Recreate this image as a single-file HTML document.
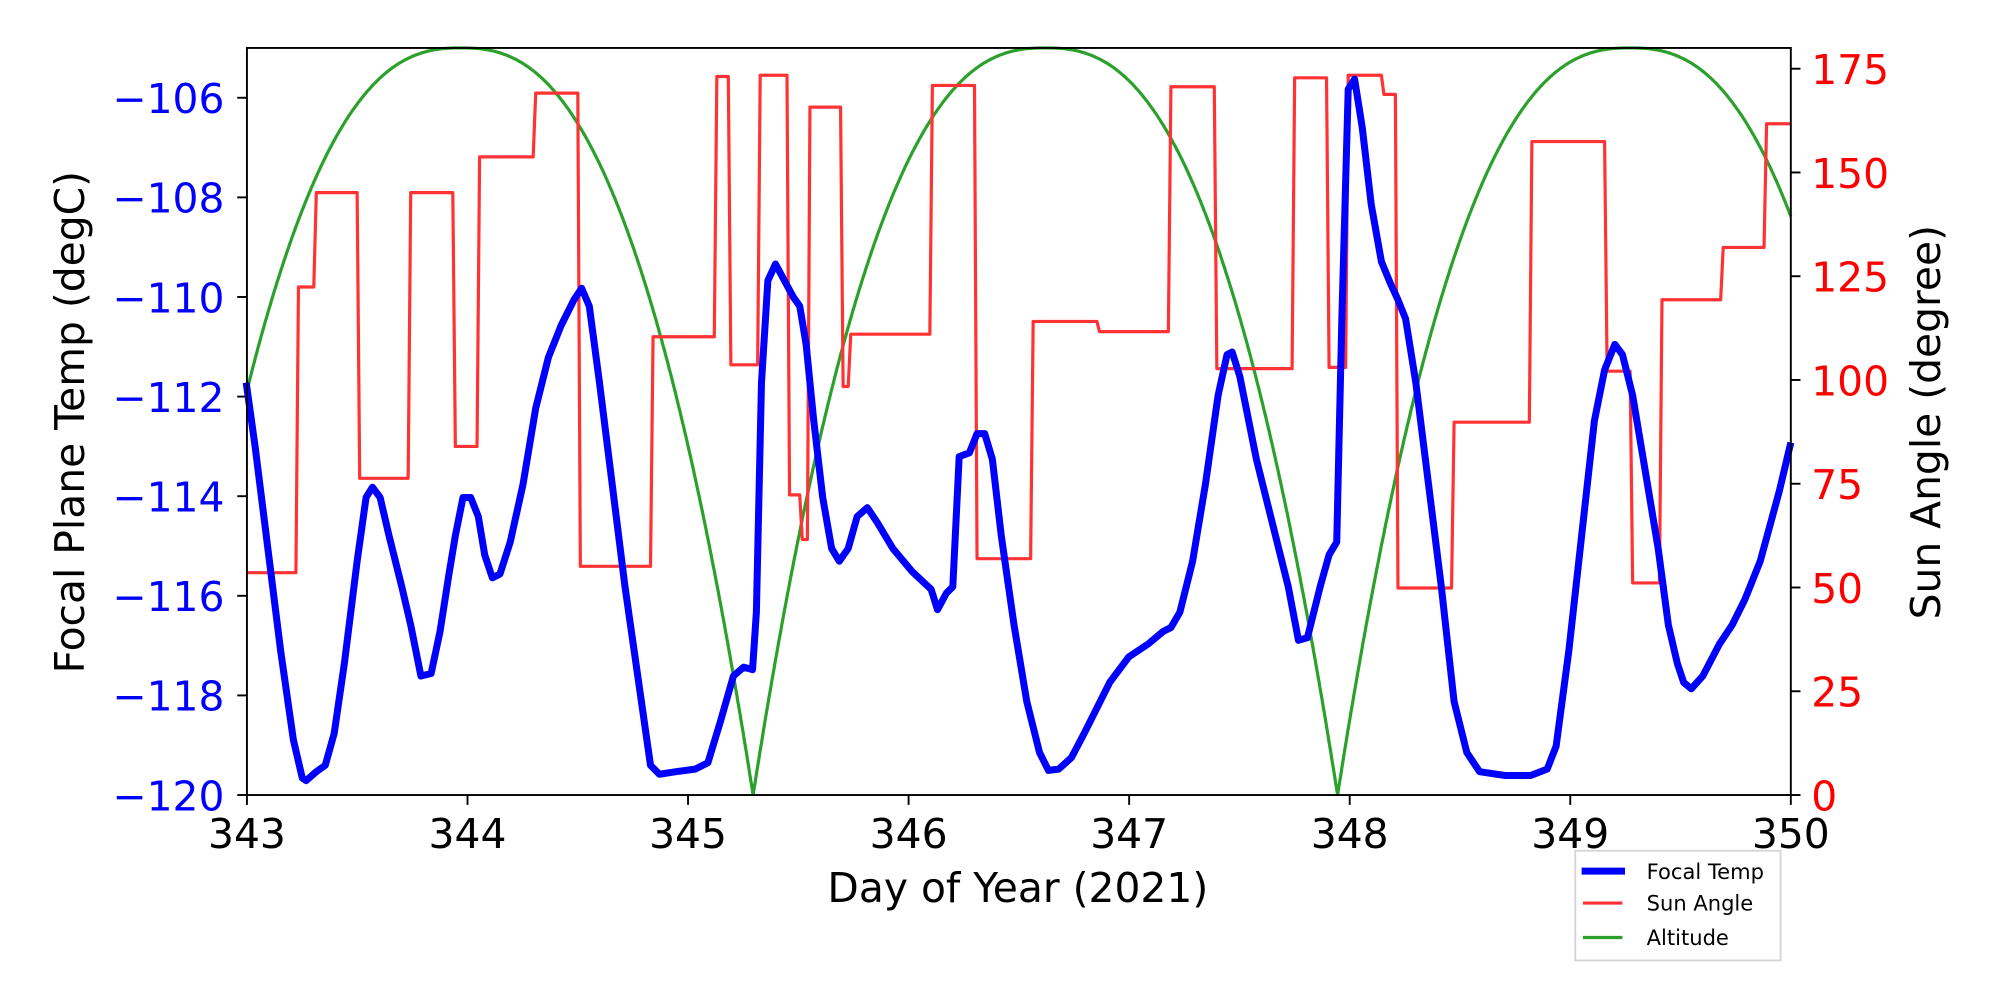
<!DOCTYPE html>
<html><head><meta charset="utf-8"><style>body{margin:0;background:#fff}svg{display:block}text{font-family:"DejaVu Sans","Liberation Sans",sans-serif}</style></head>
<body>
<svg id="s" width="2000" height="1000" viewBox="0 0 1568 784" xmlns="http://www.w3.org/2000/svg">
<rect width="1568" height="784" fill="#fff"/>
<g id="plot"></g>
<rect x="193.6" y="37.6" width="1210.4" height="585.7" fill="none" stroke="#000" stroke-width="1.5"/>
<g font-size="32" fill="#0000ff" text-anchor="end" id="yl"></g>
<g font-size="32" fill="#ff0000" id="yr"></g>
<g font-size="32" fill="#000" text-anchor="middle" id="xt"></g>
<text x="798" y="707" font-size="32" text-anchor="middle">Day of Year (2021)</text>
<text transform="translate(66,331) rotate(-90)" font-size="32" text-anchor="middle">Focal Plane Temp (degC)</text>
<text transform="translate(1521,331) rotate(-90)" font-size="32" text-anchor="middle">Sun Angle (degree)</text>
<rect x="1235" y="667" width="161" height="86" fill="#fff" stroke="#d6d6d6" stroke-width="1.5"/>
<line x1="1240" y1="683" x2="1274" y2="683" stroke="#0000ff" stroke-width="5.5"/>
<line x1="1241" y1="708" x2="1272" y2="708" stroke="#ff3333" stroke-width="2.5"/>
<line x1="1241" y1="735" x2="1272" y2="735" stroke="#2ca02c" stroke-width="2.5"/>
<g font-size="16.5"><text x="1291" y="689">Focal Temp</text><text x="1291" y="714">Sun Angle</text><text x="1291" y="741">Altitude</text></g>
</svg>
<script>
var L=193.6,R=1404,T=37.6,B=623.3,NS="http://www.w3.org/2000/svg";
function el(p,n,a,t){var e=document.createElementNS(NS,n);for(var k in a)e.setAttribute(k,a[k]);if(t!==undefined)e.textContent=t;document.getElementById(p).appendChild(e);return e;}
for(var v=-106;v>=-120;v-=2){var y=B-(v+120)*(B-T)/15;el('yl','text',{x:176,y:y+12},'\u2212'+(-v));el('plot','line',{x1:186,x2:193.6,y1:y,y2:y,stroke:'#000','stroke-width':1.5});}
for(var a=0;a<=175;a+=25){var y=B-a*(B-T)/180;el('yr','text',{x:1420,y:y+12},''+a);el('plot','line',{x1:1404,x2:1411.6,y1:y,y2:y,stroke:'#000','stroke-width':1.5});}
for(var d=343;d<=350;d++){var x=L+(d-343)*(R-L)/7;el('xt','text',{x:x,y:665},''+d);el('plot','line',{x1:x,x2:x,y1:623.3,y2:631,stroke:'#000','stroke-width':1.5});}
var pk=[343.97,346.62,349.27],pts=[];
for(var i=0;i<=1400;i++){var d=343+7*i/1400,best=9;for(var j=0;j<3;j++){var q=Math.abs(d-pk[j]);if(q<best)best=q;}var r=Math.min(best/1.325,1);var A=180*(1-Math.pow(r,2.5));pts.push((L+(d-343)*(R-L)/7).toFixed(1)+','+(B-A*(B-T)/180).toFixed(1));}
el('plot','polyline',{points:pts.join(' '),fill:'none',stroke:'#2ca02c','stroke-width':2.5});
var s=[[193,449],[232,449],[234,225],[246,225],[248,151],[280,151],[282,375],[320,375],[322,151],[355,151],[357,350],[374,350],[376,123],[418,123],[420,73],[453,73],[455,444],[510,444],[512,264],[560,264],[562,60],[571,60],[573,286],[594,286],[596,59],[617,59],[619,388],[627,388],[629,423],[633,423],[635,84],[659,84],[661,303],[665,303],[667,262],[729,262],[731,67],[764,67],[766,438],[808,438],[810,252],[860,252],[862,260],[916,260],[918,68],[952,68],[954,289],[1013,289],[1015,61],[1040,61],[1042,288],[1055,288],[1057,59],[1083,59],[1085,74],[1094,74],[1096,461],[1138,461],[1140,331],[1199,331],[1201,111],[1258,111],[1260,291],[1278,291],[1280,457],[1301,457],[1303,235],[1349,235],[1351,194],[1383,194],[1385,97],[1404,97]];
el('plot','polyline',{points:s.map(function(p){return p.join(',')}).join(' '),fill:'none',stroke:'#ff3333','stroke-width':2.5,'stroke-linejoin':'round'});
var b=[[193,300],[200,350],[210,430],[220,510],[230,580],[237,610],[240,612],[248,605],[255,600],[262,575],[270,520],[280,440],[287,390],[292,382],[298,390],[305,420],[315,460],[322,490],[330,530],[338,528],[345,495],[352,450],[357,420],[363,390],[369,390],[375,405],[380,435],[386,453],[392,450],[400,425],[410,380],[420,320],[430,280],[440,255],[450,235],[456,226],[462,240],[470,300],[480,380],[490,460],[500,530],[510,600],[517,607],[530,605],[545,603],[555,598],[565,565],[575,530],[583,523],[590,525],[593,480],[597,300],[602,220],[608,207],[615,220],[622,233],[627,240],[632,270],[638,330],[645,390],[652,430],[658,440],[665,430],[672,405],[680,398],[688,410],[700,430],[715,448],[730,462],[735,478],[742,465],[747,460],[752,358],[760,355],[766,340],[772,340],[778,360],[785,420],[795,490],[805,550],[815,590],[822,604],[830,603],[840,594],[850,575],[860,555],[870,535],[885,515],[900,505],[912,495],[918,492],[925,480],[935,440],[945,380],[955,310],[962,278],[966,276],[972,295],[985,360],[1000,420],[1010,460],[1018,502],[1025,500],[1035,460],[1042,435],[1048,425],[1052,250],[1057,70],[1062,62],[1068,100],[1075,160],[1083,205],[1090,222],[1096,235],[1102,250],[1110,300],[1120,380],[1130,460],[1140,550],[1150,590],[1160,605],[1180,608],[1200,608],[1213,603],[1220,585],[1230,510],[1240,420],[1250,330],[1258,290],[1266,270],[1272,278],[1280,310],[1290,370],[1300,430],[1308,490],[1315,520],[1320,535],[1326,540],[1335,530],[1348,505],[1358,490],[1368,470],[1380,440],[1395,385],[1404,347]];
el('plot','polyline',{points:b.map(function(p){return p.join(',')}).join(' '),fill:'none',stroke:'#0000ff','stroke-width':5.5,'stroke-linejoin':'round'});
</script>
</body></html>
